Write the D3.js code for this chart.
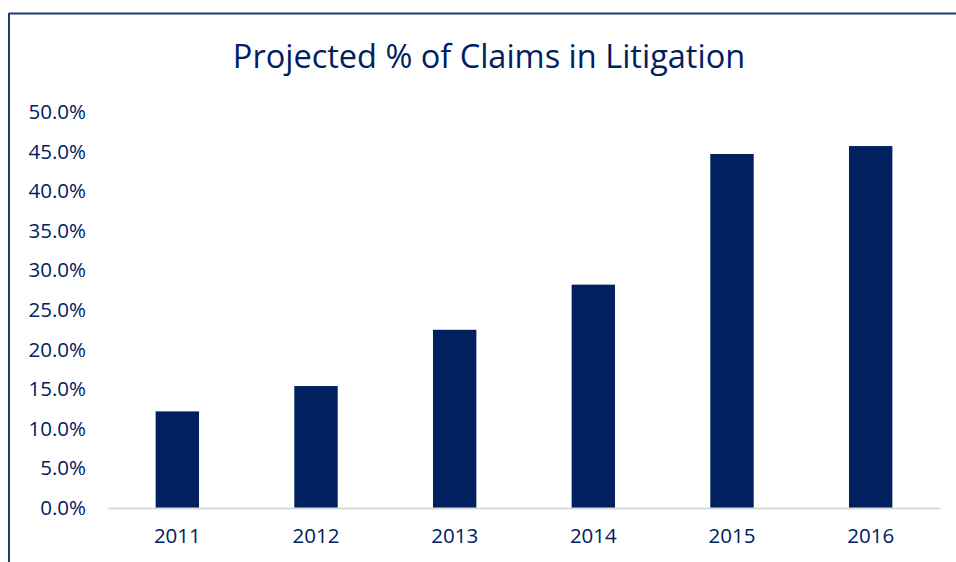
<!DOCTYPE html>
<html><head><meta charset="utf-8">
<script src="https://cdn.jsdelivr.net/npm/d3@7"></script>
<style>html,body{margin:0;padding:0;background:#fff;}svg{display:block;}</style>
</head><body>
<svg id="chart" width="956" height="562"></svg>
<script>
const title = "Projected % of Claims in Litigation";
const years = ["2011","2012","2013","2014","2015","2016"];
const values = [12.2, 15.4, 22.5, 28.2, 44.7, 45.7];
const yTicks = [0,5,10,15,20,25,30,35,40,45,50];

const svg = d3.select("#chart");
const navy = "#002060";
const font = "'Open Sans', 'Liberation Sans', sans-serif";

// frame border (top and left edges visible)
svg.append("line").attr("x1",9).attr("x2",956).attr("y1",13.5).attr("y2",13.5)
  .attr("stroke","#1f3a6e").attr("stroke-width",2);
svg.append("line").attr("x1",9).attr("x2",9).attr("y1",13).attr("y2",562)
  .attr("stroke","#1f3a6e").attr("stroke-width",2);

const x = d3.scaleBand().domain(years).range([108,940]).paddingInner(0.687).paddingOuter(0.3435);
const y = d3.scaleLinear().domain([0,50]).range([508,112]);

svg.append("text").attr("x",489).attr("y",68).attr("text-anchor","middle")
  .attr("font-family",font).attr("font-size",32.5).attr("fill",navy).text(title);

// y axis labels
const yAxis = svg.append("g").attr("transform","translate(86,0)")
  .call(d3.axisLeft(y).tickValues(yTicks).tickFormat(d=>d.toFixed(1)+"%").tickSize(0).tickPadding(0));
yAxis.select(".domain").remove();
yAxis.selectAll("text").attr("font-family",font).attr("font-size",20.5).attr("fill",navy);

// bars
svg.append("g").selectAll("rect").data(values).join("rect")
  .attr("x",(d,i)=>x(years[i])).attr("width",x.bandwidth())
  .attr("y",d=>y(d)).attr("height",d=>y(0)-y(d)).attr("fill",navy);

// x axis
const xAxis = svg.append("g").attr("transform","translate(0,508)")
  .call(d3.axisBottom(x).tickSize(0).tickPadding(20));
xAxis.select(".domain").attr("stroke","#d9d9d9").attr("stroke-width",2);
xAxis.selectAll("text").attr("font-family",font).attr("font-size",20.5).attr("fill",navy);
</script>
</body></html>
